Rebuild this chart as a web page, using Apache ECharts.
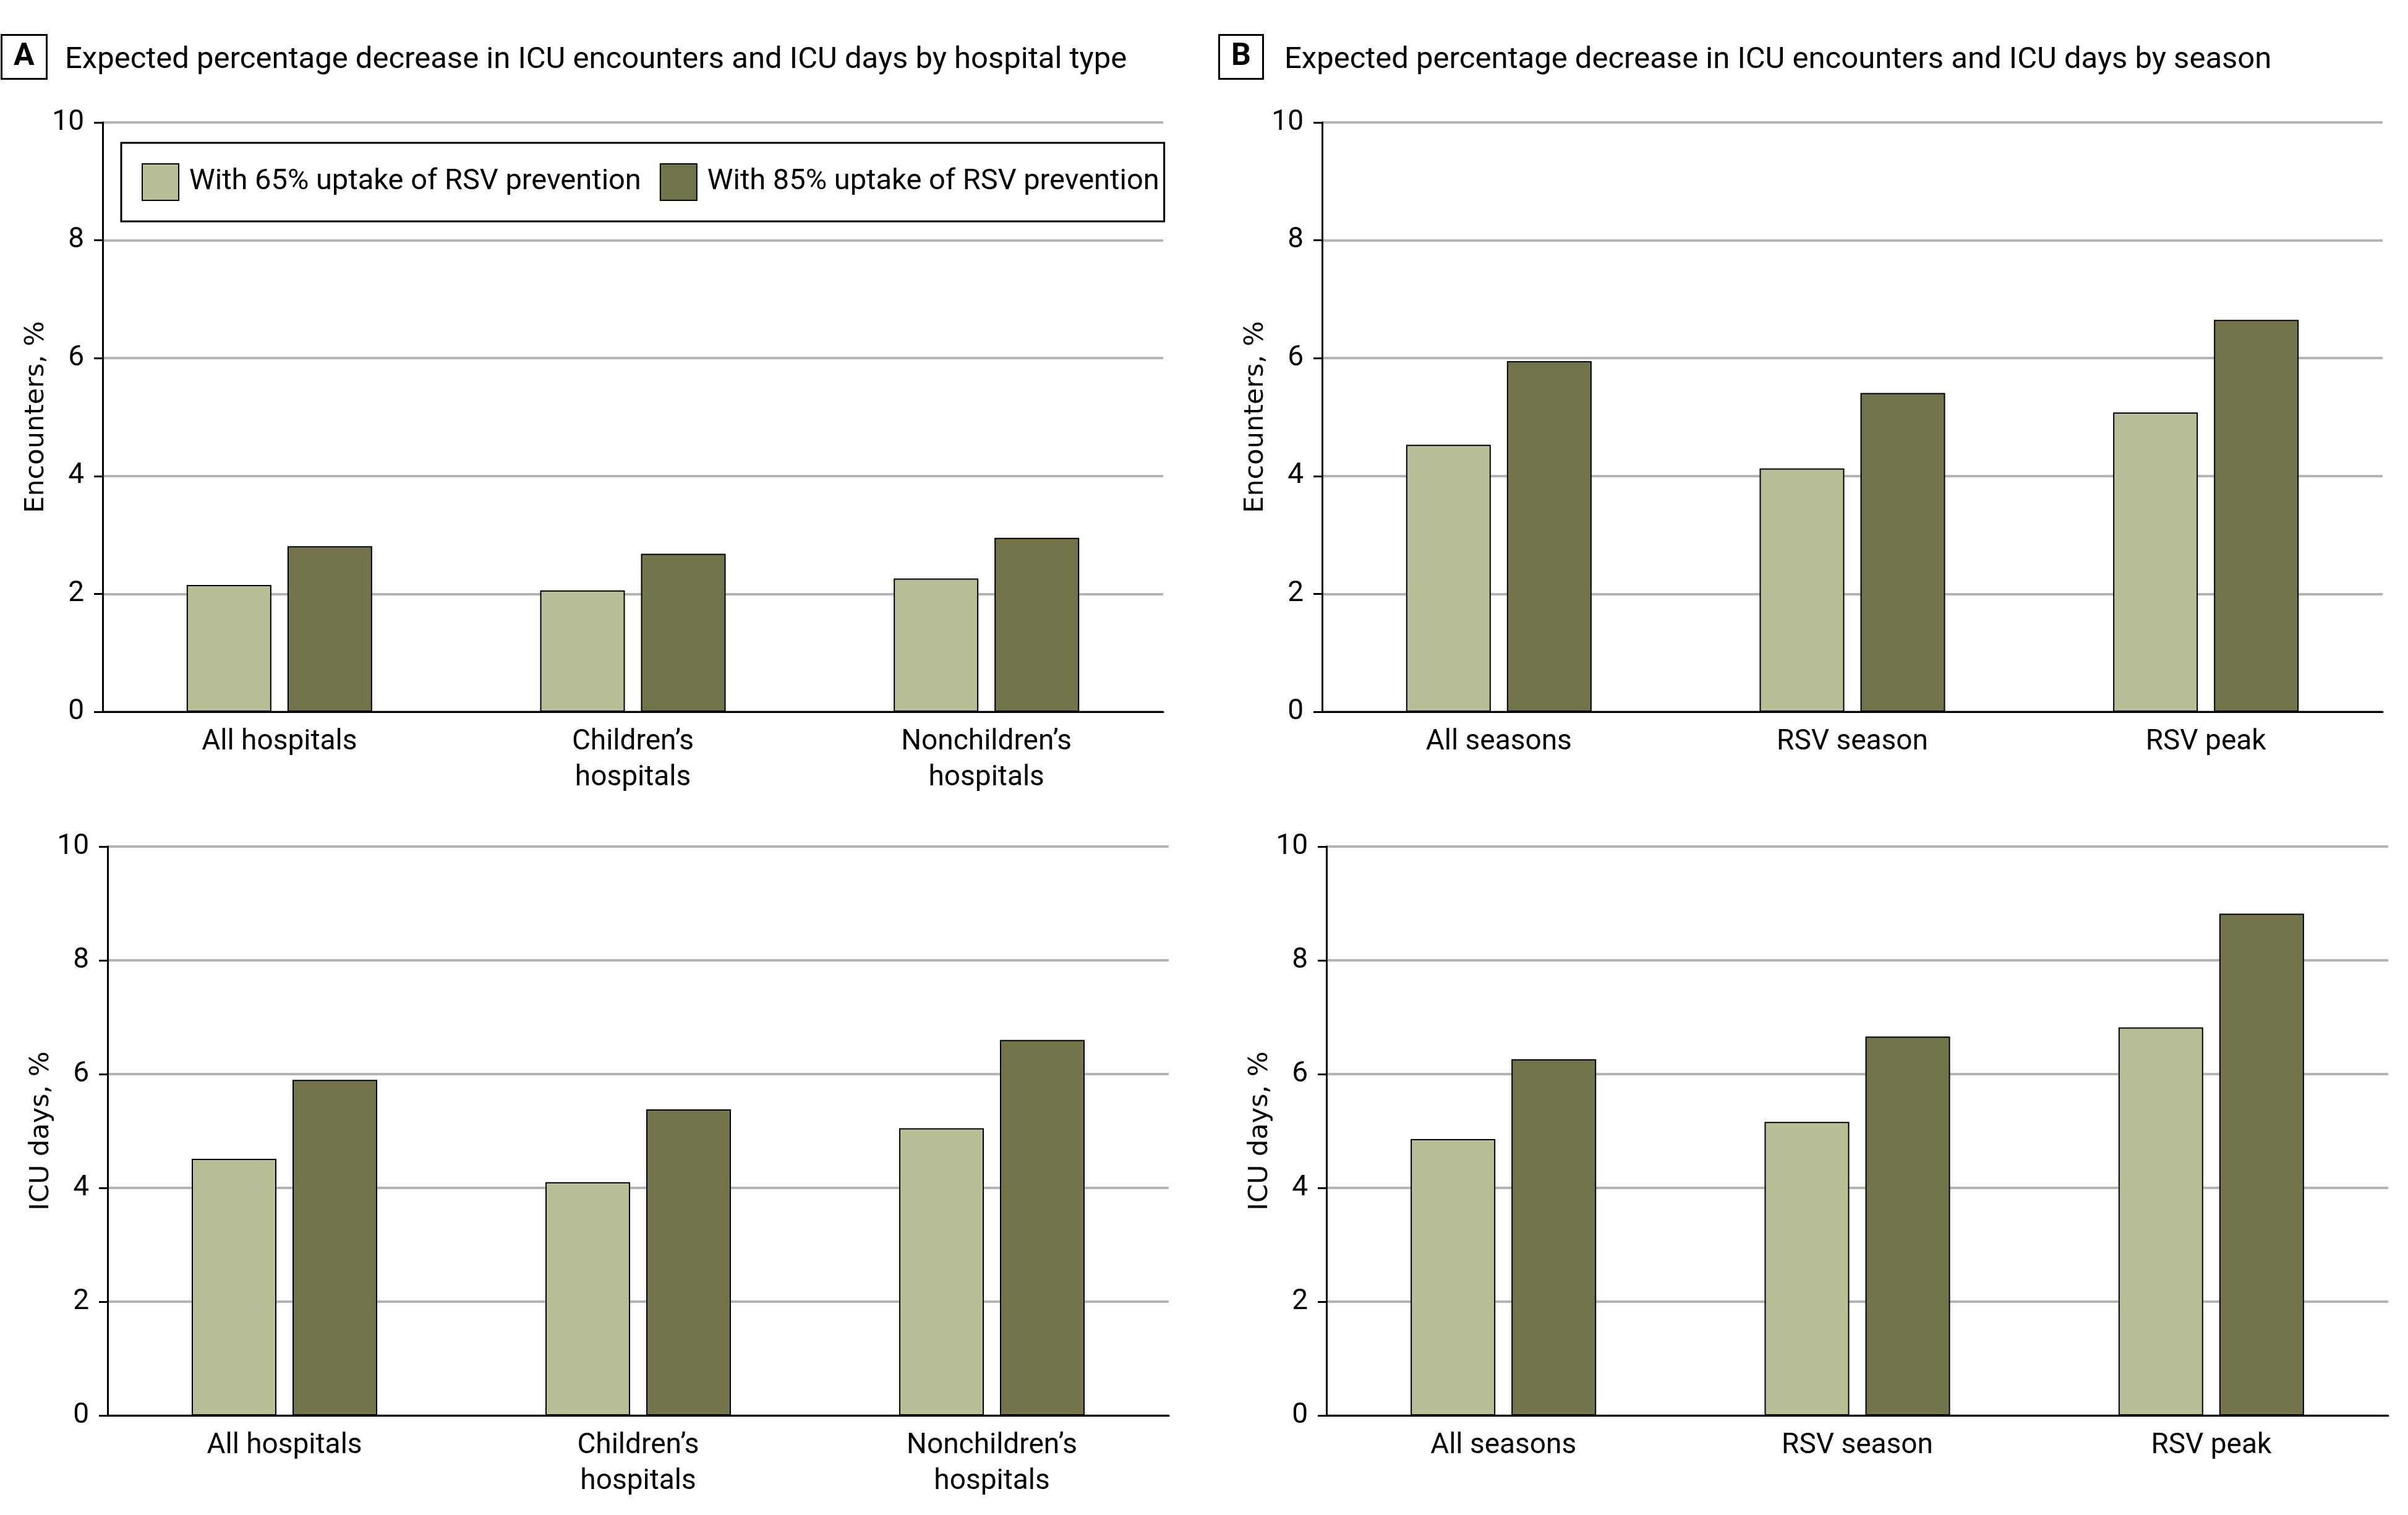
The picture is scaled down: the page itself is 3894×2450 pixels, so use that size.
<!DOCTYPE html>
<html lang="en">

<head>
    <meta charset="UTF-8">
    <title>ICU encounters and ICU days</title>
    <script src="https://cdn.jsdelivr.net/npm/echarts@6.0.0/dist/echarts.min.js"></script>
    <style>
        html, body { margin: 0; padding: 0; background: #fff; }
    </style>
</head>

<body>
    <div id="main" style="width: 3894px;height:2450px;"></div>
    <script>
        // data
        const hospitalTypes = ['All hospitals', 'Children\u2019s\nhospitals', 'Nonchildren\u2019s\nhospitals'];
        const seasons = ['All seasons', 'RSV season', 'RSV peak'];
        const seriesNames = ['With 65% uptake of RSV prevention', 'With 85% uptake of RSV prevention'];
        const yTicks = { min: 0, max: 10, interval: 2 };

        const encHosp65 = [2.15, 2.06, 2.26];
        const encHosp85 = [2.81, 2.68, 2.95];
        const daysHosp65 = [4.51, 4.10, 5.05];
        const daysHosp85 = [5.90, 5.38, 6.60];
        const encSeason65 = [4.53, 4.13, 5.08];
        const encSeason85 = [5.95, 5.41, 6.65];
        const daysSeason65 = [4.86, 5.16, 6.82];
        const daysSeason85 = [6.26, 6.66, 8.82];

        const narrow = "Roboto, 'Liberation Sans', sans-serif";
        const wide = "'DejaVu Sans', Verdana, sans-serif";
        const light = '#b8bf96';
        const dark = '#74744c';

        let myChart = echarts.init(document.getElementById('main'));

        // grid boxes: [left, top, width, height]
        const boxes = [
            [166, 198, 1715, 953],
            [174, 1369, 1716, 920],
            [2138, 198, 1715, 953],
            [2145, 1369, 1717, 920]
        ];
        const cats = [hospitalTypes, hospitalTypes, seasons, seasons];
        const yNames = ['Encounters, %', 'ICU days, %', 'Encounters, %', 'ICU days, %'];
        const values = [
            [encHosp65, encHosp85],
            [daysHosp65, daysHosp85],
            [encSeason65, encSeason85],
            [daysSeason65, daysSeason85]
        ];

        let grids = [], xAxes = [], yAxes = [], series = [];
        boxes.forEach(function (b, i) {
            grids.push({ left: b[0], top: b[1], width: b[2], height: b[3], outerBoundsMode: 'none' });
            xAxes.push({
                type: 'category', gridIndex: i, data: cats[i],
                axisLine: { lineStyle: { color: '#000', width: 3 } },
                axisTick: { show: false },
                axisLabel: { color: '#000', fontFamily: narrow, fontSize: 46, lineHeight: 58, margin: 20 }
            });
            yAxes.push({
                type: 'value', gridIndex: i, min: yTicks.min, max: yTicks.max, interval: yTicks.interval,
                name: yNames[i], nameLocation: 'middle', nameGap: 78,
                nameTextStyle: { color: '#000', fontFamily: wide, fontSize: 43 },
                axisLine: { show: true, lineStyle: { color: '#000', width: 3 } },
                axisTick: { show: true, length: 14, lineStyle: { color: '#000', width: 3 } },
                axisLabel: { color: '#000', fontFamily: narrow, fontSize: 46, margin: 30 },
                splitLine: { lineStyle: { color: '#b4b4b4', width: 4 } }
            });
            series.push({
                name: seriesNames[0], type: 'bar', xAxisIndex: i, yAxisIndex: i,
                data: values[i][0], barWidth: 137, barGap: '19%',
                itemStyle: { color: light, borderColor: '#000', borderWidth: 2 }
            });
            series.push({
                name: seriesNames[1], type: 'bar', xAxisIndex: i, yAxisIndex: i,
                data: values[i][1], barWidth: 137, barGap: '19%',
                itemStyle: { color: dark, borderColor: '#000', borderWidth: 2 }
            });
        });

        let option = {
            backgroundColor: '#fff',
            animation: false,
            title: [
                {
                    text: 'A', left: 2, top: 56, padding: [11, 20],
                    borderColor: '#000', borderWidth: 3,
                    textStyle: { fontFamily: narrow, fontSize: 50, fontWeight: 'bold', lineHeight: 50, color: '#000' }
                },
                {
                    text: 'Expected percentage decrease in ICU encounters and ICU days by hospital type',
                    left: 100, top: 68,
                    textStyle: { fontFamily: narrow, fontSize: 49, fontWeight: 'normal', color: '#000' }
                },
                {
                    text: 'B', left: 1971, top: 56, padding: [11, 20],
                    borderColor: '#000', borderWidth: 3,
                    textStyle: { fontFamily: narrow, fontSize: 50, fontWeight: 'bold', lineHeight: 50, color: '#000' }
                },
                {
                    text: 'Expected percentage decrease in ICU encounters and ICU days by season',
                    left: 2072, top: 68,
                    textStyle: { fontFamily: narrow, fontSize: 49, fontWeight: 'normal', color: '#000' }
                }
            ],
            legend: {
                data: seriesNames,
                left: 196, top: 231,
                padding: [33, 8, 33, 33],
                borderColor: '#000', borderWidth: 3,
                itemWidth: 59, itemHeight: 59, itemGap: 30,
                icon: 'rect',
                itemStyle: { borderColor: '#000', borderWidth: 2 },
                textStyle: { fontFamily: narrow, fontSize: 47, color: '#000', padding: [0, 0, 0, 12] }
            },
            tooltip: {},
            grid: grids,
            xAxis: xAxes,
            yAxis: yAxes,
            series: series
        };
        myChart.setOption(option);
    </script>
</body>

</html>
